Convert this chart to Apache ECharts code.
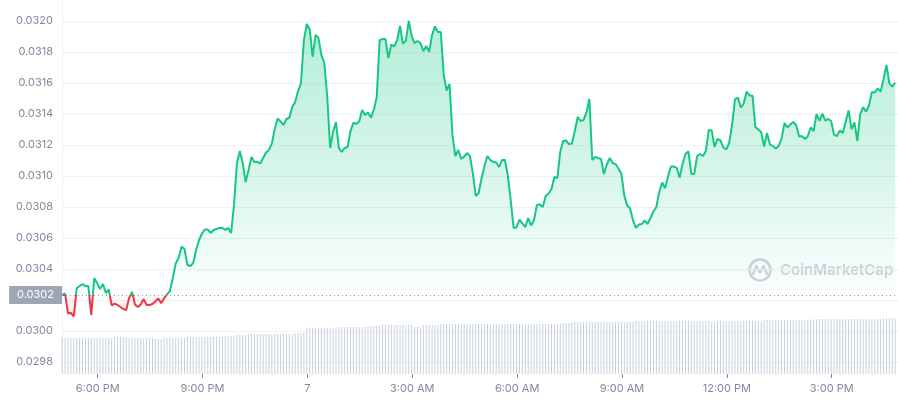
<!DOCTYPE html>
<html>
<head>
<meta charset="utf-8">
<script src="https://cdn.jsdelivr.net/npm/echarts@6/dist/echarts.min.js"></script>
<style>
html,body{margin:0;padding:0;background:#fff;}
#chart{width:898px;height:400px;}
</style>
</head>
<body>
<div id="chart"></div>
<script>
// Time axis: hours since midnight of day 6 (24 = "7"); one sample every 5 minutes from 4:59 PM
const startHour = 16 + 59 / 60;
const stepMinutes = 5;
const xTickHours = [18, 21, 24, 27, 30, 33, 36, 39];
const xTickLabels = ['6:00 PM', '9:00 PM', '7', '3:00 AM', '6:00 AM', '9:00 AM', '12:00 PM', '3:00 PM'];
const yTickLabels = ['0.0298', '0.0300', '0.0302', '0.0304', '0.0306', '0.0308', '0.0310', '0.0312', '0.0314', '0.0316', '0.0318', '0.0320'];
const refLabel = '0.0302';

const prices = [
0.030232,0.030243,0.030114,0.030116,0.030094,0.030276,0.030290,0.030303,0.030290,0.030290,
0.030103,0.030342,0.030310,0.030271,0.030303,0.030245,0.030268,0.030165,0.030177,0.030168,
0.030155,0.030142,0.030135,0.030213,0.030252,0.030171,0.030155,0.030171,0.030206,0.030168,
0.030168,0.030174,0.030190,0.030210,0.030179,0.030210,0.030236,0.030258,0.030342,0.030436,
0.030471,0.030545,0.030529,0.030426,0.030419,0.030439,0.030523,0.030587,0.030629,0.030655,
0.030655,0.030632,0.030652,0.030658,0.030665,0.030665,0.030652,0.030665,0.030632,0.030813,
0.031082,0.031161,0.031084,0.030961,0.031039,0.031123,0.031090,0.031090,0.031081,0.031116,
0.031152,0.031168,0.031211,0.031303,0.031371,0.031352,0.031329,0.031368,0.031376,0.031445,
0.031477,0.031548,0.031600,0.031877,0.031981,0.031945,0.031768,0.031910,0.031890,0.031781,
0.031729,0.031516,0.031181,0.031284,0.031348,0.031181,0.031155,0.031181,0.031187,0.031290,
0.031344,0.031336,0.031353,0.031426,0.031394,0.031410,0.031377,0.031426,0.031510,0.031877,
0.031884,0.031884,0.031761,0.031848,0.031836,0.031877,0.031968,0.031852,0.031873,0.032000,
0.031903,0.031858,0.031871,0.031858,0.031806,0.031839,0.031802,0.031910,0.031965,0.031929,
0.031929,0.031652,0.031552,0.031594,0.031265,0.031129,0.031168,0.031110,0.031125,0.031148,
0.031129,0.031019,0.030871,0.030890,0.030987,0.031065,0.031129,0.031103,0.031092,0.031087,
0.031058,0.031103,0.031103,0.031006,0.030845,0.030665,0.030668,0.030719,0.030694,0.030671,
0.030729,0.030681,0.030716,0.030813,0.030816,0.030800,0.030871,0.030887,0.030916,0.030994,
0.030987,0.031155,0.031226,0.031229,0.031206,0.031210,0.031290,0.031381,0.031355,0.031361,
0.031410,0.031497,0.031103,0.031123,0.031116,0.031110,0.031013,0.031074,0.031116,0.031084,
0.031077,0.031048,0.031013,0.030874,0.030810,0.030790,0.030713,0.030665,0.030687,0.030690,
0.030713,0.030690,0.030729,0.030771,0.030800,0.030897,0.030958,0.030921,0.030997,0.031061,
0.031061,0.031052,0.030990,0.031077,0.031142,0.031159,0.031013,0.031013,0.031129,0.031142,
0.031129,0.031161,0.031297,0.031294,0.031187,0.031239,0.031229,0.031184,0.031172,0.031213,
0.031329,0.031495,0.031506,0.031442,0.031468,0.031545,0.031519,0.031518,0.031316,0.031300,
0.031284,0.031190,0.031277,0.031203,0.031194,0.031177,0.031194,0.031242,0.031342,0.031313,
0.031332,0.031348,0.031329,0.031255,0.031258,0.031239,0.031258,0.031313,0.031290,0.031400,
0.031355,0.031403,0.031358,0.031368,0.031355,0.031268,0.031258,0.031294,0.031277,0.031350,
0.031423,0.031303,0.031345,0.031226,0.031400,0.031445,0.031415,0.031455,0.031542,0.031539,
0.031565,0.031544,0.031626,0.031716,0.031598,0.031576,0.031602
];

const volumes = [
36,36,36,36,36,36,36,36,36,36,
36,36,36,36,36,36,36,36,37,37,
37,37,36,36,36,36,36,36,36,36,
36,36,35,35,35,36,36,36,36,36,
36,36,36,37,37,37,37,37,37,37,
37,37,37,37,37,37,38,38,38,38,
39,39,39,39,40,40,40,40,40,40,
40,40,40,40,40,40,40,40,40,40,
41,41,41,41,46,46,46,46,46,46,
46,46,46,46,47,47,47,47,47,47,
47,47,47,47,47,48,48,48,48,48,
49,49,49,49,49,49,49,49,49,49,
49,47,47,47,49,49,49,49,49,49,
50,50,50,50,50,50,50,50,50,50,
50,50,50,50,50,50,50,50,50,50,
50,50,50,50,50,50,50,50,50,50,
50,50,50,50,50,50,50,50,50,50,
50,50,51,51,51,51,52,52,52,52,
52,52,52,52,52,52,52,52,52,52,
52,52,52,52,52,52,52,53,53,53,
53,53,53,53,53,53,53,53,53,53,
53,53,53,53,53,53,53,53,53,53,
53,53,53,52,52,53,53,53,53,53,
53,53,53,53,53,53,53,53,53,53,
53,54,54,54,54,54,54,54,54,54,
54,54,54,54,54,54,54,54,55,55,
55,55,55,55,55,55,55,55,55,55,
55,55,55,55,55,55,55,55,55,55,
55,55,55,56,56,56,56
];

const refPrice = prices[0];
const times = prices.map((_, i) => startHour + i * stepMinutes / 60);
const FONT = 'Inter, "Noto Sans", sans-serif';
const labelColor = '#808a9d';

const GRID_TOP = 0, GRID_BOTTOM = 26, H = 400;
const Y_MIN = 0.0297226, Y_MAX = 0.0321355;
const plotH = H - GRID_TOP - GRID_BOTTOM;
// fraction of the plot height (from the top) at which the reference price lies
const refFrac = (Y_MAX - refPrice) / (Y_MAX - Y_MIN);
const GREEN = '#16c784', RED = '#ea3943';

const lineColor = {
  type: 'linear', x: 0, y: GRID_TOP, x2: 0, y2: GRID_TOP + plotH, global: true,
  colorStops: [
    {offset: 0, color: GREEN},
    {offset: refFrac, color: GREEN},
    {offset: refFrac, color: RED},
    {offset: 1, color: RED}
  ]
};
const areaColor = {
  type: 'linear', x: 0, y: GRID_TOP, x2: 0, y2: GRID_TOP + plotH, global: true,
  colorStops: [
    {offset: 0, color: 'rgba(22,199,132,0.34)'},
    {offset: refFrac * 0.55, color: 'rgba(22,199,132,0.18)'},
    {offset: refFrac - 0.005, color: 'rgba(22,199,132,0.02)'},
    {offset: refFrac, color: 'rgba(234,57,67,0.02)'},
    {offset: refFrac + 0.07, color: 'rgba(234,57,67,0.16)'},
    {offset: 1, color: 'rgba(234,57,67,0.16)'}
  ]
};

const chart = echarts.init(document.getElementById('chart'), null, {renderer: 'canvas'});
chart.setOption({
  animation: false,
  backgroundColor: '#ffffff',
  textStyle: {fontFamily: FONT},
  grid: {left: 62, right: 0, top: GRID_TOP, bottom: GRID_BOTTOM, containLabel: false, outerBoundsMode: 'none'},
  xAxis: {
    type: 'value',
    min: 16.979,
    max: 40.897,
    axisLine: {show: false},
    splitLine: {show: false},
    axisTick: {show: true, customValues: xTickHours, length: 4, lineStyle: {color: '#808a9d', width: 1}},
    axisLabel: {
      customValues: xTickHours,
      color: labelColor, fontSize: 11, fontFamily: FONT, margin: 9,
      formatter: v => xTickLabels[xTickHours.indexOf(Math.round(v))] || ''
    }
  },
  yAxis: [{
    type: 'value',
    min: Y_MIN,
    max: Y_MAX,
    position: 'left',
    axisLine: {show: true, lineStyle: {color: '#eceff3'}},
    axisTick: {show: false, customValues: yTickLabels.map(Number)},
    splitLine: {show: true, lineStyle: {color: '#eff2f5', width: 1}},
    axisLabel: {
      customValues: yTickLabels.map(Number),
      color: labelColor, fontSize: 11, fontFamily: FONT, margin: 9,
      formatter: v => v.toFixed(4)
    }
  }, {
    type: 'value', min: 0, max: 374, show: false,
    splitLine: {show: false}
  }],
  graphic: [{
    type: 'group', left: 747, top: 257, silent: true, z: 0,
    children: [
      {type: 'circle', shape: {cx: 12, cy: 12, r: 10.5}, style: {fill: 'none', stroke: '#cfd4e0', lineWidth: 2.6}},
      {type: 'polyline', shape: {points: [[5, 16], [8.5, 8], [12, 14.5], [15.5, 8], [19, 16]]}, style: {fill: 'none', stroke: '#cfd4e0', lineWidth: 2.4, lineJoin: 'round', lineCap: 'round'}},
      {type: 'text', x: 32, y: 12, style: {text: 'CoinMarketCap', fill: '#cfd4e0', font: '600 15px Inter, "Noto Sans", sans-serif', verticalAlign: 'middle'}}
    ]
  }],
  series: [{
    type: 'bar',
    xAxisIndex: 0, yAxisIndex: 1,
    data: times.map((t, i) => [t, volumes[i]]),
    barWidth: 1,
    itemStyle: {color: '#c7cfdd'},
    silent: true,
    z: 1
  }, {
    type: 'line',
    xAxisIndex: 0, yAxisIndex: 0,
    data: times.map((t, i) => [t, prices[i]]),
    showSymbol: false,
    symbol: 'none',
    lineStyle: {width: 2, color: lineColor},
    itemStyle: {color: GREEN},
    areaStyle: {
      origin: refPrice,
      opacity: 1,
      color: areaColor
    },
    markLine: {
      silent: true,
      precision: 6,
      symbol: ['none', 'none'],
      lineStyle: {type: [1, 3], color: '#8e97a8', width: 1},
      label: {
        position: 'start', distance: 0,
        formatter: refLabel,
        color: '#ffffff', fontSize: 11, fontFamily: FONT,
        backgroundColor: '#9ea5b4',
        padding: [4, 8, 3, 8]
      },
      data: [{yAxis: refPrice}]
    },
    z: 3
  }]
});
</script>
</body>
</html>
